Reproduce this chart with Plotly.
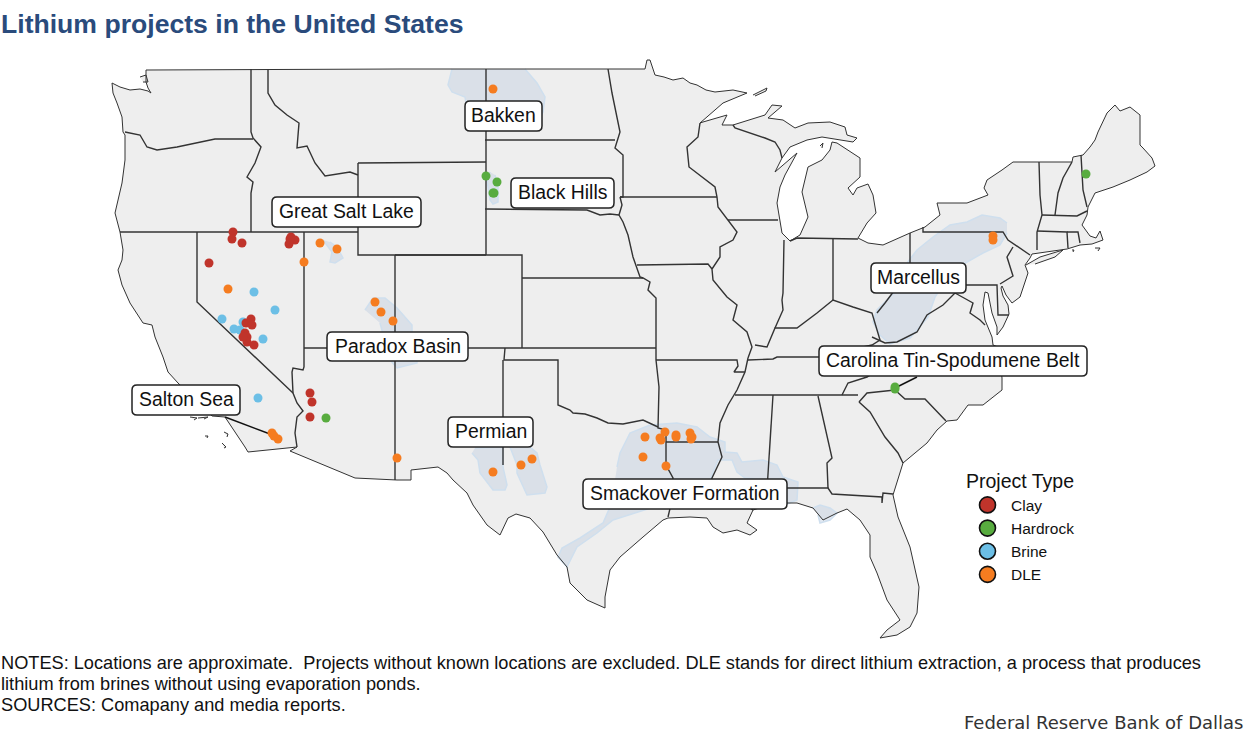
import plotly.graph_objects as go

# No basemap can be fetched offline, so the outlines are traced off the picture.
# All coordinates are map units matching the 1244x734 frame, y pointing down.

coast = [
    (146,70),(400,69),(645,69),(647,60),(650,60),(655,75),(664,77),(673,80),(683,78),(690,83),(697,85),(706,90),(715,92),(733,90),(747,93),
    (723,103),(700,123),(703,122),(727,115),(722,125),(733,125),(765,115),(772,105),(782,106),(768,118),(783,120),
    (795,128),(808,123),(830,122),(845,127),(847,135),(857,138),(853,142),(840,140),(822,137),(807,140),(790,147),
    (782,158),(775,172),(797,153),(785,175),(780,187),(777,203),(782,233),(790,241),(800,235),(808,217),(802,192),
    (808,167),(822,160),(830,150),(832,142),(837,143),(860,158),(860,177),(848,188),(853,195),(857,188),(868,184),
    (873,195),(876,213),(867,223),(858,238),(868,243),(883,245),(910,233),(925,227),(940,215),(937,203),(967,203),
    (988,195),(984,188),(987,180),(1002,170),(1013,162),(1072,162),(1073,157),(1083,155),(1090,147),(1095,140),
    (1098,132),(1107,113),(1115,105),(1120,111),(1130,107),(1140,115),(1140,145),(1143,148),(1152,158),(1155,166),
    (1147,172),(1130,180),(1113,187),(1095,193),(1088,207),(1087,215),(1082,225),(1090,236),(1096,238),(1100,231),
    (1103,240),(1092,244),(1080,245),(1067,249),(1032,254),(1030,258),(1025,265),(1028,273),(1020,297),(1012,303),
    (1006,295),(1002,286),(1001,288),(1003,296),(1008,305),(1009,314),(1003,327),(997,335),(997,327),(992,313),
    (988,293),(985,292),(983,305),(985,320),(992,337),(993,345),(998,347),(1000,360),(1002,378),(1002,390),(983,405),
    (968,405),(957,420),(947,421),(937,430),(927,443),(903,463),(893,495),(898,517),(910,547),(919,587),(917,613),
    (910,627),(897,635),(880,638),(887,630),(900,620),(887,600),(877,573),(870,557),(870,535),(860,520),(847,509),
    (837,513),(823,520),(813,508),(797,503),(775,503),(753,510),(747,523),(757,530),(750,535),(737,530),(723,533),
    (713,527),(707,518),(690,517),(668,518),(663,520),(643,537),(620,557),(610,570),(605,597),(605,608),(587,600),
    (570,583),(567,567),(557,555),(543,532),(530,518),(516,514),(508,518),(500,535),(487,525),(473,505),(467,493),
    (453,480),(447,473),(438,467),(411,470),(411,480),(397,480),(355,478),(290,451),(297,447),(248,452),(245,447),
    (225,417),(212,416),(178,383),(168,372),(163,357),(155,337),(152,325),(143,323),(130,303),(128,298),(122,285),
    (118,270),(122,260),(123,250),(120,232),(115,213),(122,183),(125,160),(125,135),(123,132),(122,117),(117,103),
    (113,93),(112,83),(120,87),(130,90),(140,89),(148,91),(151,93),(148,88),(146,82),(146,70),
]

islands = [
    [(140,77),(146,75),(148,82),(143,82)],
    [(753,95),(767,88),(766,91),(755,96)],
    [(820,146),(823,143),(822,148)],
    [(1026,265),(1040,257),(1063,250),(1055,257),(1035,264)],
    [(190,417),(197,418),(194,420)],
    [(198,418),(208,417),(204,419)],
    [(224,432),(228,434),(227,437)],
    [(222,443),(226,447),(224,448)],
    [(205,436),(208,436),(207,438)],
    [(1095,248),(1100,248),(1098,251)],
    [(1072,250),(1074,250),(1073,252)],
]

state_lines = [
    [(251,69),(251,132),(253,138),(261,147),(255,163),(247,177),(253,182),(251,193),(251,232)],
    [(268,69),(268,93),(275,105),(287,115),(299,123),(297,143),(297,148),(307,146),(315,163),(325,176),(350,172),(358,175)],
    [(358,163),(486,162)],
    [(358,163),(358,255),(486,255)],
    [(486,69),(486,255)],
    [(120,232),(358,232)],
    [(125,132),(140,135),(147,147),(157,150),(177,147),(197,143),(215,139),(253,139)],
    [(197,232),(197,302),(293,393)],
    [(304,232),(304,367),(303,370),(293,368),(292,372),(293,393),(297,403),(303,411),(297,417),(295,433),(297,447)],
    [(304,348),(395,348)],
    [(395,255),(395,480)],
    [(395,255),(522,255),(522,348)],
    [(395,348),(656,348)],
    [(522,278),(643,278)],
    [(485,209),(587,210),(600,215),(610,214),(619,215)],
    [(485,140),(615,140)],
    [(608,69),(612,93),(620,132),(615,148),(623,155),(623,197),(620,197)],
    [(620,197),(717,197)],
    [(620,197),(622,205),(619,215),(623,222),(628,235),(633,257),(640,277),(643,278),(650,282),(648,290),(656,298),(656,360)],
    [(637,265),(708,264),(712,269)],
    [(505,348),(504,360),(558,360),(558,405),(570,410),(573,413),(585,414),(597,418),(608,423),(623,424),(643,420),(658,427)],
    [(503,360),(503,465)],
    [(656,360),(659,387),(658,428),(666,430),(666,465),(673,478),(672,500),(668,517)],
    [(656,360),(737,360),(738,366),(734,372),(745,372)],
    [(748,358),(745,372),(737,390),(728,405),(720,423),(718,442),(722,457),(712,478),(705,500),(745,505),(753,510)],
    [(666,442),(718,442)],
    [(700,123),(698,137),(687,147),(689,167),(715,187),(717,197),(718,207),(728,220),(737,232),(733,240),(720,247),
     (720,257),(712,269),(713,280),(727,297),(737,305),(733,320),(747,332),(752,347),(748,358)],
    [(728,220),(778,220)],
    [(733,125),(735,128),(765,138),(775,142),(780,150),(782,158)],
    [(784,240),(783,293),(782,300),(783,310),(775,328)],
    [(790,241),(797,238),(858,239)],
    [(833,238),(833,300)],
    [(755,345),(767,347),(775,328),(797,328),(817,313),(833,300),(853,307),(872,313),(880,340),(872,345),(863,347),(840,357)],
    [(748,360),(773,359),(777,357),(840,357),(1000,362)],
    [(735,395),(858,395)],
    [(773,395),(767,480),(767,490)],
    [(787,488),(828,488),(832,494),(882,497),(882,503),(883,493),(893,494)],
    [(818,396),(832,458),(827,463),(828,488)],
    [(842,395),(848,383),(867,377),(875,372)],
    [(859,402),(867,393),(895,390),(905,399),(925,399),(946,421)],
    [(859,402),(870,412),(885,437),(898,453),(903,463)],
    [(910,233),(910,265),(907,273),(900,283),(885,303),(877,313)],
    [(923,227),(923,232),(1003,232),(1008,240),(1030,255)],
    [(910,285),(997,285),(998,315),(1009,315)],
    [(1013,247),(1007,257),(1013,276),(1000,284)],
    [(955,293),(973,303),(970,313),(980,320),(985,325)],
    [(955,293),(943,305),(927,315),(917,332),(897,342),(885,343),(872,337)],
    [(1039,162),(1040,195),(1042,215),(1037,232),(1037,250)],
    [(1042,215),(1077,216),(1087,211)],
    [(1072,162),(1063,178),(1058,193),(1055,215)],
    [(1081,155),(1083,190),(1087,207)],
    [(1037,231),(1067,232),(1068,248)],
    [(1067,232),(1078,232),(1080,243)],
]

leader_lines = [
    [(225,417),(270,434)],
    [(917,377),(895,388)],
]

basins = [
    [(452,69),(450,78),(448,85),(452,92),(465,97),(470,125),(535,128),(543,112),(545,97),(537,83),(525,69)],
    [(490,172),(487,180),(490,200),(493,204),(498,202),(498,187),(495,175)],
    [(323,240),(327,245),(332,252),(330,262),(335,263),(343,258),(340,253),(337,247),(330,242)],
    [(365,310),(373,298),(385,298),(397,308),(412,325),(412,333),(417,345),(417,363),(397,368),(390,360),(380,323)],
    [(472,453),(478,460),(480,473),(493,490),(505,490),(507,485),(503,467),(503,447),(475,448)],
    [(510,447),(517,465),(517,473),(527,495),(545,493),(547,487),(540,465),(537,453),(530,447)],
    [(617,467),(620,453),(630,433),(650,425),(677,423),(697,427),(710,437),(725,442),(725,452),(737,453),(742,462),
     (763,460),(777,465),(783,477),(798,482),(797,500),(785,505),(778,500),(770,480),(745,478),(737,472),(732,460),
     (718,460),(710,480),(700,500),(660,505),(613,520),(597,533),(577,547),(567,567),(558,557),(562,548),(580,538),
     (603,523),(610,507),(615,480)],
    [(813,508),(820,505),(830,508),(837,513),(830,520),(820,523),(818,515)],
    [(1007,223),(1000,218),(982,215),(967,222),(950,225),(933,237),(917,250),(907,263),(897,290),(877,310),(873,322),
     (880,335),(890,344),(910,338),(928,317),(935,297),(953,270),(983,253),(1000,245),(1007,233)],
]

# projects by type
clay_x = [233,232,242,209,291,295,289,290,246,251,252,245,247,247,254,243,310,312,310]
clay_y = [232,239,243,263,237,240,244,239,323,319,325,333,337,342,345,337,393,402,417]
hardrock_x = [326,486,497,494,493,1086,895,895]
hardrock_y = [418,176,182,193,193,174,387,389]
brine_x = [254,275,222,234,243,240,263,258]
brine_y = [292,310,319,329,322,330,339,398]
dle_x = [228,320,337,304,375,381,393,397,272,278,274,493,993,993,493,521,532,645,660,661,665,676,676,690,692,691,643,666]
dle_y = [289,243,249,262,302,312,321,458,433,439,436,89,236,240,472,465,459,437,438,440,432,435,437,433,437,439,457,466]

type_names = ["Clay", "Hardrock", "Brine", "DLE"]
type_colors = ["#C0342B", "#58AC3F", "#6CBFE6", "#F57C20"]

label_names = ["Bakken", "Black Hills", "Great Salt Lake", "Paradox Basin", "Salton Sea", "Permian",
               "Smackover Formation", "Marcellus", "Carolina Tin-Spodumene Belt"]
label_left = [465, 511, 272, 327, 132, 448, 583, 871, 819]
label_right = [542, 614, 421, 468, 240, 533, 787, 966, 1087]
label_top = [101, 178, 197, 332, 385, 417, 479, 263, 346]
label_bottom = [131, 208, 227, 361, 415, 447, 509, 293, 376]

note_lines = [
    "NOTES: Locations are approximate.  Projects without known locations are excluded. DLE stands for direct "
    "lithium extraction, a process that produces",
    "lithium from brines without using evaporation ponds.",
    "SOURCES: Comapany and media reports.",
]


def split_xy(paths):
    xs, ys = [], []
    for path in paths:
        xs += [p[0] for p in path] + [None]
        ys += [p[1] for p in path] + [None]
    return xs, ys


def rounded_box(x0, y0, x1, y1, r=5):
    return (f"M{x0+r},{y0} L{x1-r},{y0} Q{x1},{y0} {x1},{y0+r} L{x1},{y1-r} Q{x1},{y1} {x1-r},{y1} "
            f"L{x0+r},{y1} Q{x0},{y1} {x0},{y1-r} L{x0},{y0+r} Q{x0},{y0} {x0+r},{y0} Z")


fig = go.Figure()

# land
land_x, land_y = split_xy([coast] + islands)
fig.add_trace(go.Scatter(x=land_x, y=land_y, mode="lines", fill="toself", fillcolor="#EEEEEE",
                         line=dict(width=0), hoverinfo="skip", showlegend=False))

# formations
for basin in basins:
    bx, by = split_xy([basin])
    fig.add_trace(go.Scatter(x=bx, y=by, mode="lines", fill="toself", fillcolor="rgba(190,205,225,0.42)",
                             line=dict(color="#CFDFEE", width=1.5), hoverinfo="skip", showlegend=False))

# outlines
fig.add_trace(go.Scatter(x=land_x, y=land_y, mode="lines", line=dict(color="#333333", width=1),
                         hoverinfo="skip", showlegend=False))
sx, sy = split_xy(state_lines)
fig.add_trace(go.Scatter(x=sx, y=sy, mode="lines", line=dict(color="#333333", width=1.4),
                         hoverinfo="skip", showlegend=False))
lx, ly = split_xy(leader_lines)
fig.add_trace(go.Scatter(x=lx, y=ly, mode="lines", line=dict(color="#111111", width=1.4),
                         hoverinfo="skip", showlegend=False))

# projects
series = [(clay_x, clay_y), (hardrock_x, hardrock_y), (brine_x, brine_y), (dle_x, dle_y)]
for i in [2, 0, 1, 3]:
    fig.add_trace(go.Scatter(x=series[i][0], y=series[i][1], mode="markers", name=type_names[i],
                             marker=dict(size=9, color=type_colors[i]), showlegend=False))

# legend keys are bigger than the dots on the map
for name, color in zip(type_names, type_colors):
    fig.add_trace(go.Scatter(x=[None], y=[None], mode="markers", name=name,
                             marker=dict(size=16, color=color, line=dict(color="#111111", width=1.6))))

# label boxes
for name, x0, x1, y0, y1 in zip(label_names, label_left, label_right, label_top, label_bottom):
    fig.add_shape(type="path", path=rounded_box(x0, y0, x1, y1), fillcolor="white",
                  line=dict(color="#222222", width=1.5), layer="above")
    fig.add_annotation(x=(x0 + x1) / 2, y=(y0 + y1) / 2 - 1, text=name, showarrow=False,
                       font=dict(family="Liberation Sans", size=19.4, color="#111111"))

fig.add_annotation(xref="paper", yref="paper", x=0, y=1 - 24 / 734, xanchor="left", yanchor="middle", showarrow=False,
                   text="<b>Lithium projects in the United States</b>", borderpad=0,
                   font=dict(family="Liberation Sans", size=26.6, color="#2A4B7C"))
for line, y_mid in zip(note_lines, [663, 684, 705]):
    fig.add_annotation(xref="paper", yref="paper", x=0, y=1 - y_mid / 734, xanchor="left", yanchor="middle",
                       showarrow=False, text=line, align="left", borderpad=0,
                       font=dict(family="Liberation Sans", size=18.2, color="#111111"))
fig.add_annotation(xref="paper", yref="paper", x=1, y=1 - 722 / 734, xanchor="right", yanchor="middle", showarrow=False,
                   text="Federal Reserve Bank of Dallas", borderpad=0,
                   font=dict(family="DejaVu Sans", size=18, color="#333333"))

fig.update_xaxes(range=[0, 1244], visible=False, fixedrange=True)
fig.update_yaxes(range=[734, 0], visible=False, fixedrange=True)
fig.update_layout(
    width=1244, height=734, margin=dict(l=0, r=0, t=0, b=0),
    paper_bgcolor="white", plot_bgcolor="white",
    legend=dict(title=dict(text="Project Type", font=dict(family="Liberation Sans", size=19.5, color="#111111")),
                x=964 / 1244, y=1 - 463 / 734, xanchor="left", yanchor="top", itemwidth=37,
                font=dict(family="Liberation Sans", size=15.5, color="#111111"), bgcolor="rgba(0,0,0,0)"),
)

fig.write_html("out.html", config=dict(displayModeBar=False), post_script="document.body.style.margin='0';")
